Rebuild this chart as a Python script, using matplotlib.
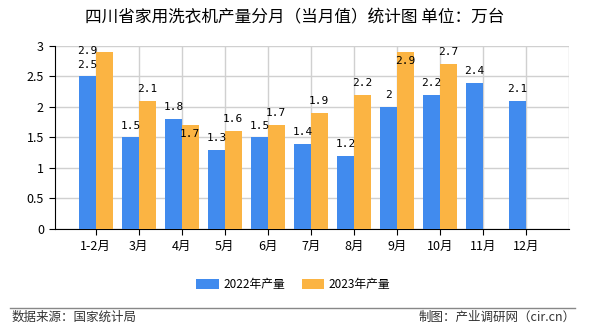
import numpy as np
import matplotlib.pyplot as plt
from matplotlib.lines import Line2D

plt.rcParams['font.family'] = ['Noto Sans CJK SC', 'DejaVu Sans']

months = ['1-2月', '3月', '4月', '5月', '6月', '7月', '8月', '9月', '10月', '11月', '12月']
y2022 = [2.5, 1.5, 1.8, 1.3, 1.5, 1.4, 1.2, 2, 2.2, 2.4, 2.1]
y2023 = [2.9, 2.1, 1.7, 1.6, 1.7, 1.9, 2.2, 2.9, 2.7, None, None]

blue = '#418BEE'
orange = '#FBB443'

fig = plt.figure(figsize=(5.9, 3.3), dpi=100)
ax = fig.add_axes([0.0932, 0.3061, 0.871, 0.5545])

x = np.arange(len(months))
w = 0.39
ax.bar(x - w / 2, y2022, width=w, color=blue, zorder=3, label='2022年产量')
x23 = [i for i, v in enumerate(y2023) if v is not None]
v23 = [v for v in y2023 if v is not None]
ax.bar(np.array(x23) + w / 2, v23, width=w, color=orange, zorder=3, label='2023年产量')

lab = dict(ha='center', textcoords='offset points', fontsize=8,
           family='DejaVu Sans Mono', zorder=4)

# value labels
for i, v in enumerate(y2022):
    ax.annotate(f'{v:g}', (i - w / 2, v), xytext=(0, 5), va='bottom', **lab)

# the original pushes a few 2023 labels around to avoid clashes
moved = {0: 'over_blue', 2: 'inside', 7: 'inside'}
for i, v in zip(x23, v23):
    how = moved.get(i)
    if how == 'over_blue':
        ax.annotate(f'{v:g}', (i - w / 2, y2022[i]), xytext=(0, 15), va='bottom', **lab)
    elif how == 'inside':
        ax.annotate(f'{v:g}', (i + w / 2, v), xytext=(0, -2.5), va='top', **lab)
    else:
        ax.annotate(f'{v:g}', (i + w / 2, v), xytext=(0, 5), va='bottom', **lab)

ax.set_xlim(-0.95, 11)
ax.set_ylim(0, 3)
ax.set_yticks(np.arange(0, 3.01, 0.5))
ax.set_yticklabels(['0', '0.5', '1', '1.5', '2', '2.5', '3'])
ax.set_xticks(x)
ax.set_xticklabels(months, fontsize=9)
ax.tick_params(axis='y', labelsize=9, length=4.5, color='black')
ax.tick_params(axis='x', length=4.5, color='black')

ax.grid(True, color='#d0d0d0', linewidth=1, zorder=0)
ax.axvline(11, color='#d0d0d0', linewidth=1, zorder=0)
for s in ['top', 'right']:
    ax.spines[s].set_visible(False)
ax.spines['left'].set_color('black')
ax.spines['bottom'].set_color('black')

fig.text(0.5, 0.945, '四川省家用洗衣机产量分月（当月值）统计图 单位：万台',
         ha='center', va='center', fontsize=12)

fig.legend(loc='center', bbox_to_anchor=(0.497, 0.137), ncol=2, frameon=False,
           fontsize=8.5, handlelength=1.9, handleheight=0.9, columnspacing=1.4, handletextpad=0.4)

fig.add_artist(Line2D([0.017, 0.975], [0.068, 0.068], color='#888888', linewidth=1,
                      transform=fig.transFigure))
fig.text(0.02, 0.04, '数据来源：国家统计局', ha='left', va='center', fontsize=9, color='#333333')
fig.text(0.975, 0.04, '制图：产业调研网（cir.cn）', ha='right', va='center', fontsize=9, color='#333333')

fig.savefig('out.png', dpi=100)
